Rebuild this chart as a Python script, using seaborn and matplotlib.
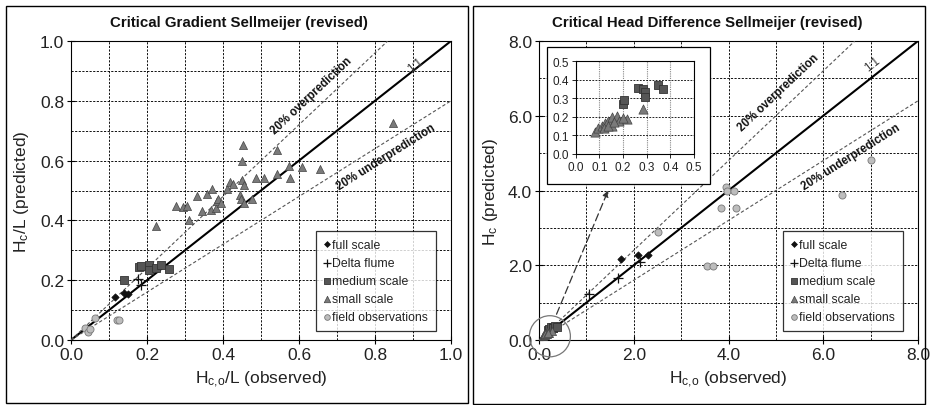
import numpy as np
import pandas as pd
import matplotlib
matplotlib.use("Agg")
import matplotlib.pyplot as plt
import seaborn as sns
from matplotlib.patches import Rectangle, Ellipse

sns.set_theme(style="white")
plt.rcParams['font.family'] = ['Liberation Sans', 'DejaVu Sans']
plt.rcParams['mathtext.default'] = 'regular'

# ---------------- data: left panel (H/L) ----------------
gl_full_x = [0.116, 0.139, 0.151]
gl_full_y = [0.145, 0.156, 0.154]
gl_delta_x = [0.175, 0.184]
gl_delta_y = [0.204, 0.185]
gl_med_x = [0.140, 0.180, 0.185, 0.205, 0.204, 0.224, 0.238, 0.257]
gl_med_y = [0.200, 0.244, 0.247, 0.251, 0.234, 0.242, 0.251, 0.239]
gl_small_x = [0.224, 0.277, 0.295, 0.305, 0.311, 0.331, 0.346, 0.357, 0.370, 0.368,
              0.381, 0.383, 0.388, 0.394, 0.410, 0.419, 0.425, 0.445, 0.447, 0.452,
              0.451, 0.451, 0.456, 0.454, 0.476, 0.487, 0.507, 0.543, 0.543, 0.574,
              0.575, 0.609, 0.656, 0.847]
gl_small_y = [0.381, 0.448, 0.446, 0.448, 0.401, 0.482, 0.431, 0.487, 0.504, 0.435,
              0.443, 0.465, 0.473, 0.459, 0.504, 0.528, 0.521, 0.484, 0.470, 0.651,
              0.599, 0.534, 0.517, 0.459, 0.470, 0.543, 0.541, 0.635, 0.554, 0.582,
              0.541, 0.579, 0.573, 0.727]
gl_field_x = [0.037, 0.046, 0.050, 0.063, 0.122, 0.127]
gl_field_y = [0.039, 0.028, 0.037, 0.074, 0.068, 0.066]

# ---------------- data: right panel (H) ----------------
hd_full_x = [1.74, 2.10, 2.30]
hd_full_y = [2.16, 2.27, 2.27]
hd_delta_x = [1.05, 1.67, 2.14]
hd_delta_y = [1.22, 1.67, 2.09]
hd_med_x = [0.199, 0.206, 0.262, 0.286, 0.293, 0.294, 0.346, 0.370]
hd_med_y = [0.270, 0.291, 0.354, 0.351, 0.333, 0.309, 0.372, 0.351]
hd_small_x = [0.082, 0.096, 0.110, 0.124, 0.138, 0.152, 0.152, 0.176, 0.185, 0.215,
              0.283, 0.118, 0.135, 0.160, 0.200]
hd_small_y = [0.120, 0.138, 0.153, 0.165, 0.180, 0.198, 0.153, 0.203, 0.180, 0.189,
              0.243, 0.140, 0.150, 0.170, 0.195]
hd_field_x = [2.52, 3.54, 3.68, 3.85, 3.94, 3.97, 4.12, 4.15, 6.40, 7.01]
hd_field_y = [2.90, 1.98, 1.98, 3.52, 4.10, 3.99, 3.99, 3.52, 3.87, 4.81]

series_labels = ["full scale", "Delta flume", "medium scale", "small scale", "field observations"]

styles = [
    dict(marker="D", s=14, color="#111111", edgecolor="#111111", linewidth=0.5),
    dict(marker="+", s=55, color="#111111", linewidth=0.9),
    dict(marker="s", s=30, color="#555555", edgecolor="#333333", linewidth=0.6),
    dict(marker="^", s=34, color="#7a7a7a", edgecolor="#444444", linewidth=0.5),
    dict(marker="o", s=26, color="#bdbdbd", edgecolor="#777777", linewidth=0.6),
]

W, H = 930, 406
fig = plt.figure(figsize=(W / 100, H / 100), dpi=100)
fig.patch.set_facecolor("white")


def fx(px):
    return px / W


def fy(py):
    return 1 - py / H


# panel frames
fig.add_artist(Rectangle((fx(5.5), fy(404)), fx(468) - fx(5.5), fy(6.5) - fy(404),
                         transform=fig.transFigure, fill=False, edgecolor="black", lw=1.0))
fig.add_artist(Rectangle((fx(473), fy(404.5)), fx(925) - fx(473), fy(6.5) - fy(404.5),
                         transform=fig.transFigure, fill=False, edgecolor="black", lw=1.0))

axL = fig.add_axes([fx(71), fy(341), fx(451) - fx(71), fy(42) - fy(341)])
axR = fig.add_axes([fx(539), fy(341), fx(918) - fx(539), fy(42) - fy(341)])


def style_axis(ax, lim, major, minor):
    ax.set_xlim(0, lim)
    ax.set_ylim(0, lim)
    ax.set_xticks(np.arange(0, lim + 1e-9, major))
    ax.set_yticks(np.arange(0, lim + 1e-9, major))
    ax.set_xticks(np.arange(0, lim + 1e-9, minor), minor=True)
    ax.set_yticks(np.arange(0, lim + 1e-9, minor), minor=True)
    ax.set_xticklabels([f"{v:.1f}" for v in np.arange(0, lim + 1e-9, major)])
    ax.set_yticklabels([f"{v:.1f}" for v in np.arange(0, lim + 1e-9, major)])
    ax.grid(True, which="both", color="black", linestyle=(0, (2.4, 1.6)), linewidth=0.65)
    ax.tick_params(which="major", direction="inout", length=6, width=0.8, color="black",
                   labelsize=12.5, labelcolor="#222222", pad=2,
                   bottom=True, left=True)
    ax.tick_params(which="minor", length=0)
    for sp in ax.spines.values():
        sp.set_color("black")
        sp.set_linewidth(0.8)
    ax.set_facecolor("white")
    ax.set_axisbelow(True)


def draw_series(ax, xs, ys):
    for x, y, st, lab in zip(xs, ys, styles, series_labels):
        df = pd.DataFrame({"x": x, "y": y})
        kw = dict(st)
        color = kw.pop("color")
        sns.scatterplot(data=df, x="x", y="y", ax=ax, color=color, label=lab, zorder=5, **kw)


def ref_lines(ax, lim):
    ax.plot([0, lim], [0, lim], color="black", lw=1.5, zorder=3)
    ax.plot([0, lim / 1.2], [0, lim], color="#555555", lw=0.8, ls=(0, (3, 2)), zorder=3)
    ax.plot([0, lim], [0, lim * 0.8], color="#555555", lw=0.8, ls=(0, (3, 2)), zorder=3)


def ref_text(ax, over_xy, under_xy, one_xy):
    kw = dict(ha="center", va="center", transform_rotates_text=True,
              rotation_mode="anchor", fontsize=8.3, fontweight="bold", color="#111111", zorder=6)
    ax.text(*over_xy, "20% overprediction", rotation=np.degrees(np.arctan(1.2)), **kw)
    ax.text(*under_xy, "20% underprediction", rotation=np.degrees(np.arctan(0.8)), **kw)
    ax.text(*one_xy, "1:1", ha="center", va="center", transform_rotates_text=True,
            rotation_mode="anchor", rotation=45, fontsize=8.3, color="#333333", zorder=6)


def add_legend(ax, x0):
    leg = ax.legend(loc="lower left", bbox_to_anchor=(x0, 0.03), frameon=True, fancybox=False,
                    edgecolor="black", fontsize=8.8, handlelength=0.5, handletextpad=0.15,
                    labelspacing=0.5, borderpad=0.65, borderaxespad=0, markerscale=0.8)
    leg.get_frame().set_linewidth(0.9)
    for t in leg.get_texts():
        t.set_color("#222222")
    leg.set_zorder(10)
    return leg


# ---------- left panel ----------
style_axis(axL, 1.0, 0.2, 0.1)
ref_lines(axL, 1.0)
draw_series(axL,
            [gl_full_x, gl_delta_x, gl_med_x, gl_small_x, gl_field_x],
            [gl_full_y, gl_delta_y, gl_med_y, gl_small_y, gl_field_y])
ref_text(axL, (0.634, 0.82), (0.829, 0.613), (0.906, 0.922))
axL.set_xlabel("H$_{c{,}o}$/L (observed)", fontsize=12.5, color="#222222", labelpad=5)
axL.set_ylabel("H$_c$/L (predicted)", fontsize=12.5, color="#222222", labelpad=6)
add_legend(axL, 0.645)
fig.text(fx(239), fy(23), "Critical Gradient Sellmeijer (revised)", ha="center", va="center",
         fontsize=10.8, fontweight="bold", color="#111111")

# ---------- right panel ----------
style_axis(axR, 8.0, 2.0, 1.0)
ref_lines(axR, 8.0)
draw_series(axR,
            [hd_full_x, hd_delta_x, hd_med_x, hd_small_x, hd_field_x],
            [hd_full_y, hd_delta_y, hd_med_y, hd_small_y, hd_field_y])
ref_text(axR, (5.05, 6.62), (6.59, 4.92), (7.05, 7.38))
axR.set_xlabel("H$_{c{,}o}$ (observed)", fontsize=12.5, color="#222222", labelpad=5)
axR.set_ylabel("H$_c$ (predicted)", fontsize=12.5, color="#222222", labelpad=6)
add_legend(axR, 0.644)
fig.text(fx(707), fy(23), "Critical Head Difference Sellmeijer (revised)", ha="center", va="center",
         fontsize=10.8, fontweight="bold", color="#111111")

# circle around the origin cluster and dashed arrow to the inset
axR.add_patch(Ellipse((0.23, 0.10), 0.865, 1.10, fill=False, edgecolor="#777777", lw=0.9,
                      zorder=6, clip_on=False))
axR.annotate("", xy=(1.46, 4.0), xytext=(0.37, 0.69),
             arrowprops=dict(arrowstyle="-|>", color="#333333", lw=0.9,
                             linestyle=(0, (6, 3)), mutation_scale=9, shrinkA=0, shrinkB=0),
             zorder=6)

# inset frame and inset axes
fig.add_artist(Rectangle((fx(547), fy(185)), fx(710) - fx(547), fy(48) - fy(185),
                         transform=fig.transFigure, facecolor="white", edgecolor="black",
                         lw=0.9, zorder=20))
axI = fig.add_axes([fx(575.7), fy(155), fx(694) - fx(575.7), fy(62.3) - fy(155)], zorder=25)
axI.set_xlim(0, 0.5)
axI.set_ylim(0, 0.5)
ticks = np.arange(0, 0.5001, 0.1)
axI.set_xticks(ticks)
axI.set_yticks(ticks)
axI.set_xticklabels([f"{v:.1f}" for v in ticks])
axI.set_yticklabels([f"{v:.1f}" for v in ticks])
axI.xaxis.grid(True, color="#888888", linestyle=(0, (1, 1)), linewidth=0.8)
axI.yaxis.grid(True, color="black", linestyle=(0, (2.2, 1.6)), linewidth=0.6)
axI.tick_params(direction="out", length=3, width=0.7, labelsize=8.5, labelcolor="#222222",
                pad=2, bottom=True, left=True)
for sp in axI.spines.values():
    sp.set_color("black")
    sp.set_linewidth(0.8)
axI.set_facecolor("white")
axI.set_axisbelow(True)
for (x, y), st in zip([(hd_med_x, hd_med_y), (hd_small_x, hd_small_y)], [styles[2], styles[3]]):
    kw = dict(st)
    color = kw.pop("color")
    kw["s"] = kw["s"] * 1.3
    sns.scatterplot(x=x, y=y, ax=axI, color=color, zorder=5, legend=False, **kw)
axI.set_xlabel("")
axI.set_ylabel("")

fig.savefig("out.png", dpi=100, facecolor="white")
